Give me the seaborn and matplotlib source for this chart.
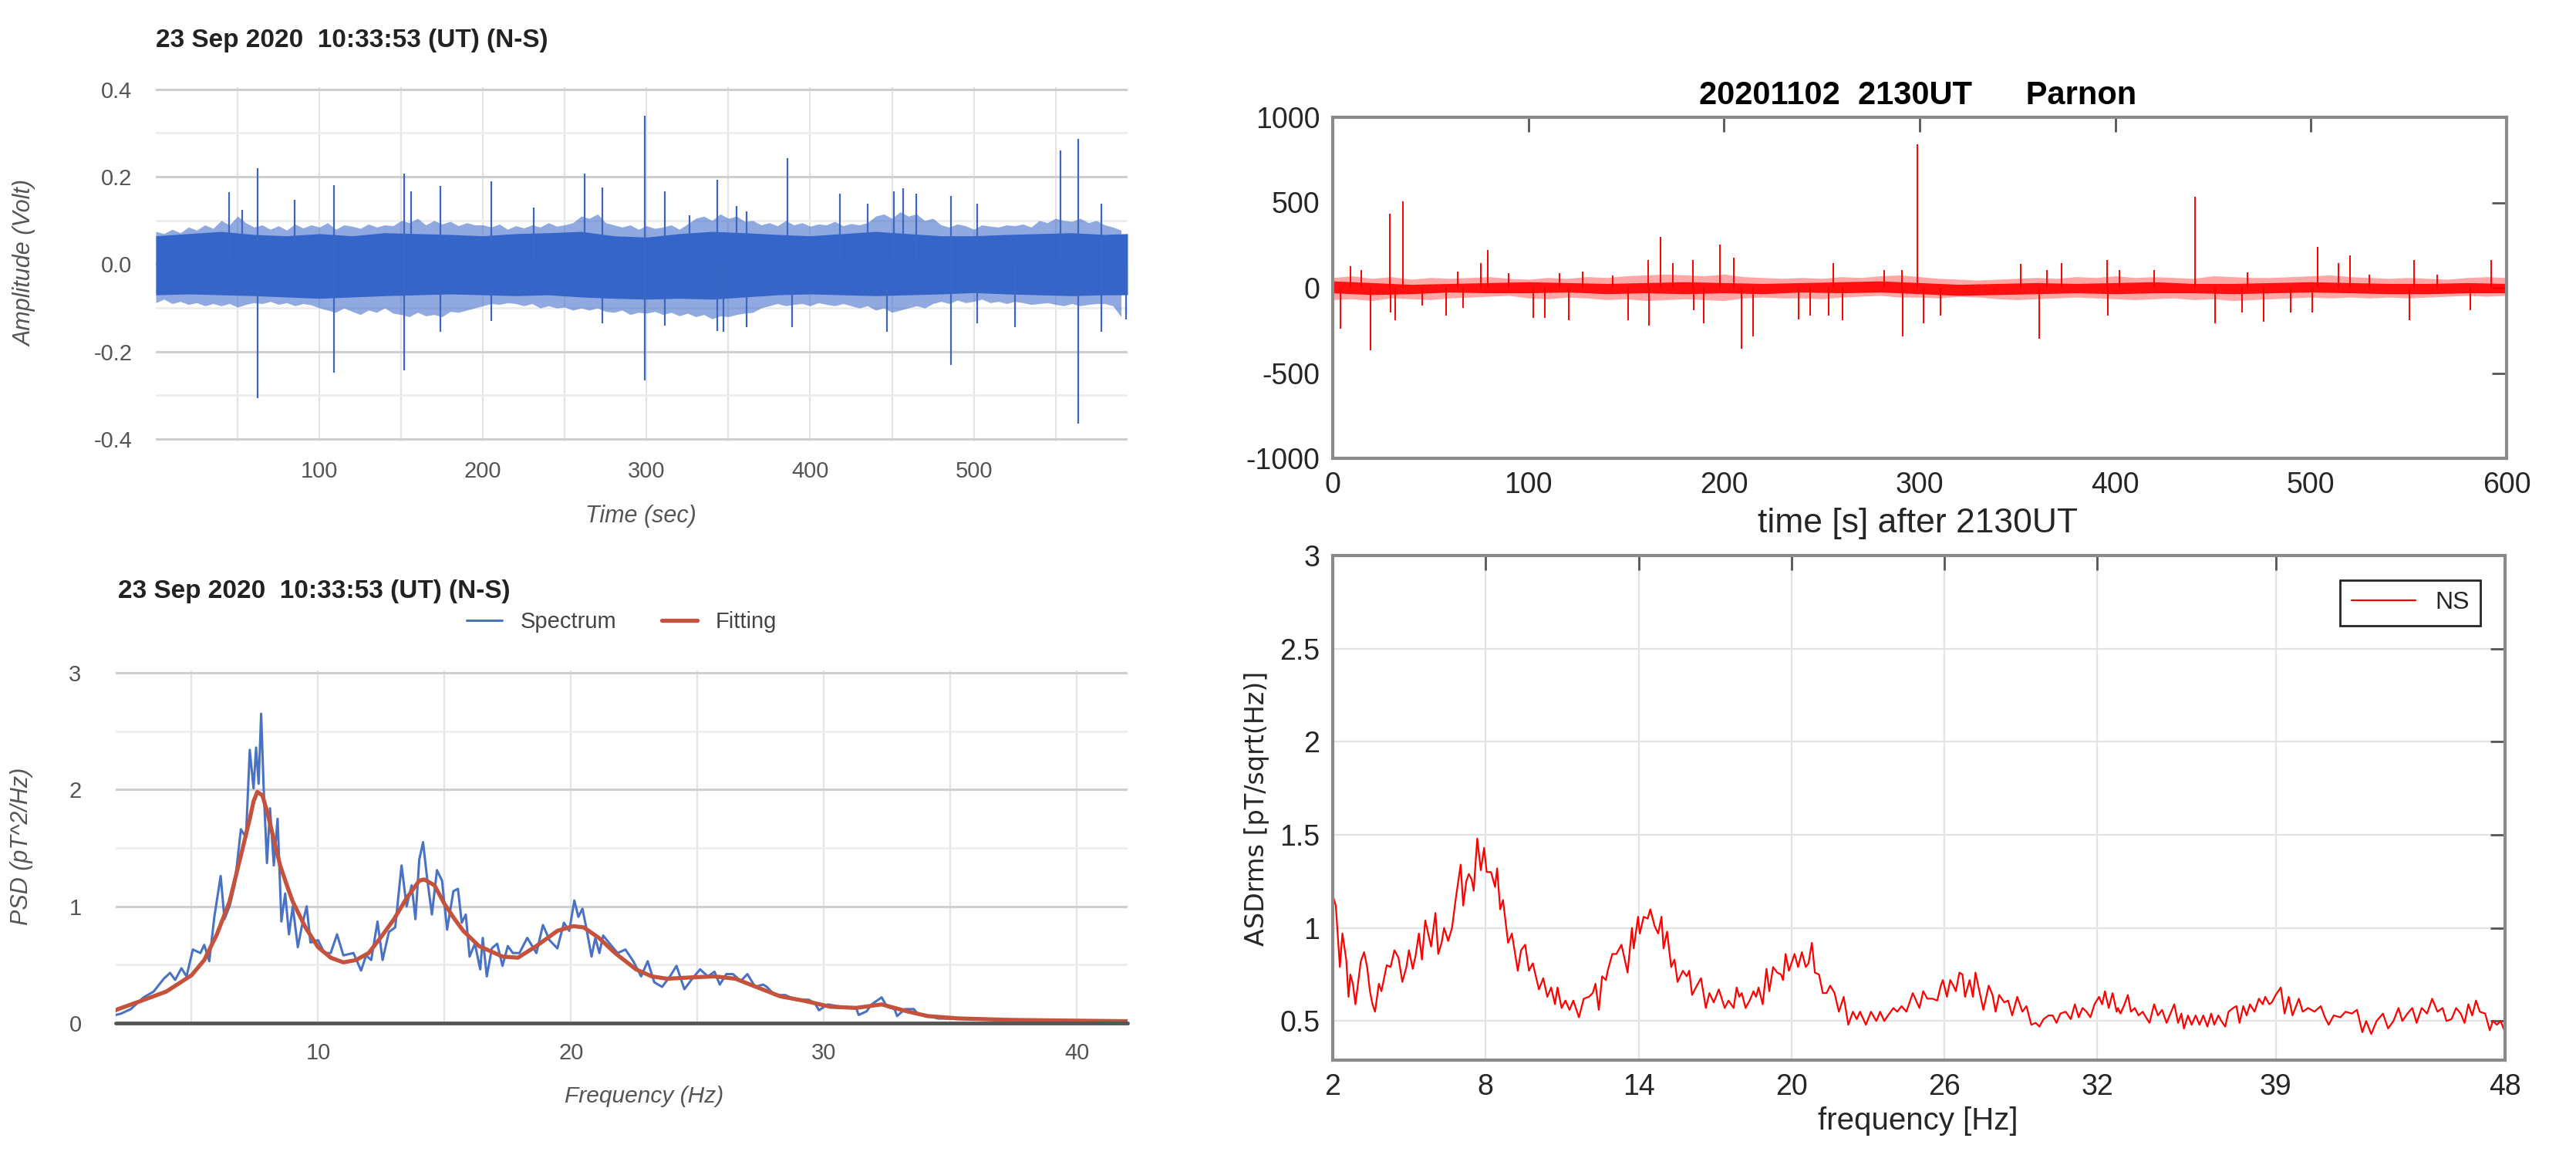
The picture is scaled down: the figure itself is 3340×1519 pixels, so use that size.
import numpy as np
import pandas as pd
import seaborn as sns
import matplotlib
matplotlib.use("Agg")
from matplotlib import pyplot as plt
import warnings
warnings.filterwarnings("ignore")

# ---------------- data ----------------
# top left: 23 Sep 2020 time series (Volt), band edges every 5 s + single spikes
tl_time = np.arange(0, 595, 5)
tl_upper = [0.075, 0.07, 0.08, 0.072,
            0.085, 0.078, 0.09, 0.082,
            0.10, 0.09, 0.11, 0.095,
            0.085, 0.09, 0.08, 0.088, 0.078, 0.092, 0.083, 0.09,
            0.085, 0.095, 0.08, 0.09, 0.087, 0.082, 0.092, 0.085, 0.09, 0.088,
            0.10, 0.095, 0.105, 0.09, 0.10, 0.092, 0.098, 0.088, 0.095, 0.09,
            0.09, 0.085, 0.092, 0.08, 0.088, 0.083, 0.09, 0.085, 0.095, 0.087, 0.09, 0.095,
            0.11, 0.105, 0.115, 0.095, 0.09, 0.085,
            0.09, 0.08, 0.088, 0.082, 0.085, 0.09, 0.08, 0.092,
            0.105, 0.11, 0.10, 0.115, 0.105, 0.11, 0.098, 0.10,
            0.09, 0.095, 0.088, 0.10, 0.09, 0.095, 0.087, 0.092, 0.09, 0.098, 0.088, 0.093, 0.09, 0.095,
            0.11, 0.115, 0.105, 0.12, 0.11, 0.115, 0.10, 0.105,
            0.09, 0.085, 0.092, 0.088, 0.08, 0.09, 0.087, 0.085, 0.09, 0.088, 0.092, 0.085,
            0.10, 0.095, 0.105, 0.10, 0.098, 0.105, 0.095, 0.10,
            0.09, 0.085, 0.078]
tl_lower = [-0.088, -0.08, -0.09, -0.085,
            -0.092, -0.088, -0.095, -0.09,
            -0.095, -0.09, -0.098, -0.092,
            -0.088, -0.09, -0.085, -0.092, -0.088, -0.095, -0.09, -0.093,
            -0.10, -0.105, -0.11, -0.10, -0.108, -0.115, -0.105, -0.11, -0.10, -0.112,
            -0.115, -0.12, -0.11, -0.118, -0.115, -0.12, -0.108, -0.11, -0.105, -0.10,
            -0.095, -0.09, -0.092, -0.088, -0.09, -0.095, -0.09, -0.10, -0.095, -0.10, -0.098, -0.105,
            -0.10, -0.105, -0.10, -0.108, -0.11, -0.105,
            -0.115, -0.11, -0.112, -0.108, -0.115, -0.11, -0.118, -0.112,
            -0.12, -0.115, -0.125, -0.118, -0.12, -0.115, -0.112, -0.11,
            -0.10, -0.095, -0.09, -0.095, -0.092, -0.09, -0.095, -0.088, -0.092, -0.095, -0.09, -0.095, -0.10, -0.095,
            -0.105, -0.10, -0.11, -0.105, -0.10, -0.095, -0.10, -0.09,
            -0.085, -0.09, -0.082, -0.088, -0.085, -0.08, -0.088, -0.085, -0.09, -0.085, -0.088, -0.092,
            -0.09, -0.088, -0.092, -0.095, -0.09, -0.095, -0.092, -0.09,
            -0.09, -0.095, -0.12]
tl_core_time = list(range(0, 600, 20)) + [594]
tl_core_upper = [0.065, 0.07, 0.075, 0.068, 0.065, 0.07, 0.065, 0.072, 0.07, 0.068,
                 0.065, 0.07, 0.072, 0.075, 0.065, 0.062, 0.07, 0.075, 0.072, 0.068,
                 0.065, 0.07, 0.075, 0.07, 0.065, 0.065, 0.068, 0.07, 0.072, 0.068, 0.07]
tl_core_lower = [-0.07, -0.068, -0.07, -0.072, -0.075, -0.078, -0.075, -0.072, -0.07, -0.068,
                 -0.07, -0.072, -0.07, -0.075, -0.078, -0.08, -0.078, -0.08, -0.075, -0.07,
                 -0.068, -0.07, -0.072, -0.07, -0.068, -0.065, -0.068, -0.07, -0.072, -0.07, -0.07]
tl_spike_time = [45, 53, 62, 62, 85, 109, 109, 152, 152, 156, 174, 174, 205, 205, 231,
                 262, 273, 273, 299, 299, 311, 311, 326, 343, 343, 347, 355, 361, 361,
                 386, 389, 418, 435, 447, 451, 457, 465, 486, 486, 502, 502, 525, 553,
                 564, 564, 578, 578, 593]
tl_spike_val = [0.165, 0.124, 0.22, -0.306, 0.147, 0.18, -0.248, 0.208, -0.242, 0.167,
                0.179, -0.155, 0.19, -0.13, 0.13, 0.208, 0.176, -0.135, 0.339, -0.266,
                0.167, -0.14, 0.112, 0.194, -0.152, -0.155, 0.133, 0.121, -0.144, 0.243,
                -0.144, 0.162, 0.138, -0.155, 0.167, 0.173, 0.162, 0.156, -0.231, 0.138,
                -0.135, -0.144, 0.26, 0.287, -0.365, 0.138, -0.155, -0.126]

# bottom left: PSD spectrum and fitting (pT^2/Hz)
spec_freq = [2.0, 2.2, 2.6, 3.1, 3.5, 3.9, 4.15, 4.35, 4.6, 4.8,
             5.05, 5.35, 5.5, 5.7, 5.9, 6.15, 6.3, 6.5, 6.7, 6.95,
             7.15, 7.3, 7.45, 7.55, 7.65, 7.75, 7.85, 7.98, 8.1, 8.25,
             8.4, 8.55, 8.7, 8.85, 9.0, 9.2, 9.35, 9.55, 9.7, 10.0,
             10.25, 10.5, 10.75, 11.0, 11.4, 11.7, 11.9, 12.1, 12.35, 12.55,
             12.8, 13.05, 13.3, 13.5, 13.7, 13.85, 14.0, 14.15, 14.3, 14.5,
             14.7, 14.9, 15.1, 15.35, 15.53, 15.68, 15.84, 15.99, 16.2, 16.41,
             16.51, 16.67, 16.87, 17.08, 17.29, 17.5, 17.7, 17.96, 18.27, 18.63,
             18.89, 19.15, 19.46, 19.72, 19.93, 20.13, 20.29, 20.45, 20.6, 20.81,
             20.96, 21.12, 21.27, 21.53, 21.84, 22.15, 22.46, 22.77, 23.03, 23.29,
             23.6, 23.91, 24.17, 24.48, 24.79, 25.1, 25.41, 25.67, 25.88, 26.14,
             26.4, 26.71, 26.97, 27.28, 27.59, 27.74, 28.05, 28.47, 28.88, 29.4,
             29.64, 29.8, 30.15, 30.66, 31.27, 31.37, 31.68, 31.88, 32.28, 32.49,
             32.79, 32.89, 33.2, 33.55, 33.7, 34.0, 34.5, 35.5, 37.0, 39.0,
             42.0]
spec_val = [0.07, 0.08, 0.12, 0.22, 0.27, 0.38, 0.43, 0.37, 0.47, 0.40,
            0.63, 0.60, 0.67, 0.53, 0.91, 1.26, 0.89, 1.00, 1.18, 1.66,
            1.59, 2.34, 2.01, 2.36, 2.05, 2.65, 2.01, 1.37, 1.84, 1.35,
            1.75, 0.87, 1.11, 0.76, 1.00, 0.65, 0.82, 1.00, 0.69, 0.71,
            0.60, 0.60, 0.76, 0.58, 0.60, 0.45, 0.58, 0.54, 0.87, 0.54,
            0.78, 0.82, 1.35, 1.00, 1.18, 0.89, 1.40, 1.55, 1.26, 0.93,
            1.31, 1.22, 0.80, 1.13, 1.15, 0.86, 0.93, 0.57, 0.68, 0.46,
            0.73, 0.40, 0.64, 0.68, 0.49, 0.66, 0.60, 0.60, 0.73, 0.60,
            0.84, 0.71, 0.64, 0.86, 0.79, 1.05, 0.91, 0.98, 0.82, 0.57,
            0.73, 0.60, 0.75, 0.68, 0.60, 0.63, 0.53, 0.40, 0.53, 0.35,
            0.31, 0.40, 0.49, 0.29, 0.38, 0.46, 0.40, 0.44, 0.33, 0.42,
            0.42, 0.36, 0.42, 0.31, 0.33, 0.31, 0.24, 0.24, 0.20, 0.20,
            0.17, 0.11, 0.16, 0.14, 0.13, 0.07, 0.10, 0.16, 0.22, 0.14,
            0.12, 0.06, 0.12, 0.12, 0.08, 0.07, 0.04, 0.035, 0.03, 0.025,
            0.02]
fit_freq = [2.0, 2.1, 3.0, 4.0, 5.0, 5.5, 6.0, 6.5, 7.0, 7.3,
            7.45, 7.6, 7.8, 8.0, 8.2, 8.5, 8.8, 9.0, 9.5, 10.0,
            10.5, 11.0, 11.5, 12.0, 12.5, 13.0, 13.5, 14.0, 14.2, 14.6,
            15.0, 15.4, 15.74, 16.36, 17.29, 17.9, 18.63, 19.46, 20.08, 20.5,
            21.1, 21.74, 22.57, 23.19, 23.8, 24.64, 25.67, 26.5, 27.2, 28.26,
            29.24, 30.25, 31.27, 32.28, 33.3, 34.1, 35.3, 37.4, 39.4, 42.0]
fit_val = [0.11, 0.12, 0.19, 0.27, 0.41, 0.54, 0.76, 1.04, 1.48, 1.75,
           1.90, 1.98, 1.95, 1.80, 1.62, 1.35, 1.16, 1.04, 0.82, 0.65,
           0.56, 0.52, 0.54, 0.60, 0.74, 0.89, 1.07, 1.22, 1.23, 1.18,
           1.02, 0.89, 0.79, 0.66, 0.57, 0.56, 0.66, 0.79, 0.83, 0.82,
           0.73, 0.60, 0.46, 0.40, 0.38, 0.39, 0.40, 0.38, 0.32, 0.23,
           0.19, 0.14, 0.13, 0.16, 0.10, 0.06, 0.04, 0.027, 0.022, 0.016]

# top right: Parnon 20201102 time series (pT), band edges + spikes
tr_time = np.arange(0, 610, 10)
tr_upper = [60, 70, 55, 65, 50, 60, 55, 60, 65, 55, 50, 60, 55, 65, 60, 70, 75, 80,
            75, 70, 80, 65, 60, 55, 60, 55, 65, 60, 70, 75, 65, 55, 50, 45, 50, 55,
            60, 55, 65, 60, 70, 60, 65, 60, 55, 70, 65, 60, 60, 65, 70, 75, 65, 60,
            55, 60, 55, 50, 60, 65, 60]
tr_lower = [-70, -65, -75, -60, -65, -70, -60, -55, -50, -45, -60, -65, -55, -60, -70, -65, -75, -70,
            -65, -70, -75, -60, -55, -60, -60, -65, -55, -50, -45, -55, -55, -60, -50, -55, -65, -70,
            -65, -60, -55, -60, -65, -70, -65, -60, -70, -65, -75, -70, -65, -60, -55, -60, -55, -60,
            -55, -60, -55, -50, -45, -50, -45]
tr_core_time = np.arange(0, 620, 20)
tr_core_upper = [40, 30, 20, 25, 30, 35, 30, 25, 30, 35, 30, 25, 30, 35, 40, 30,
                 20, 25, 30, 25, 30, 35, 25, 25, 30, 35, 30, 25, 25, 30, 25]
tr_core_lower = [-30, -40, -35, -25, -30, -30, -25, -35, -30, -35, -30, -35, -25, -30, -25, -35,
                 -45, -40, -35, -30, -35, -30, -30, -35, -30, -25, -30, -35, -35, -30, -30]
tr_spike_time = [8.9, 14.7, 29, 36, 64, 75.5, 79.4, 90, 116, 127.8, 143, 161.4, 167.6, 174,
                 184, 197.8, 205, 256, 281.8, 291, 298.9, 351.5, 365, 372.4, 395.7, 402,
                 420, 440.6, 467.7, 503.3, 514, 520, 530, 552.5, 564.5, 592,
                 3.9, 19.4, 29.5, 32, 45.7, 58, 66.6, 102.6, 108.4, 120.8, 151, 161.8,
                 184.5, 189.7, 209, 215, 238, 244, 253.6, 260.6, 291.5, 302, 310.5, 361,
                 396, 451, 464.6, 476, 489.7, 500.6, 550.5, 581.5]
tr_spike_val = [125, 102, 434, 509, 94, 147, 223, 87, 87, 94, 72, 165, 298, 147,
                162, 253, 177, 147, 102, 102, 842, 140, 102, 147, 165, 102,
                102, 535, 91, 238, 147, 192, 79, 165, 79, 162,
                -238, -366, -147, -192, -102, -162, -117, -177, -177, -192, -192, -223,
                -132, -207, -358, -283, -185, -162, -162, -192, -283, -207, -162, -298,
                -162, -207, -147, -200, -147, -147, -192, -132]

# bottom right: NS amplitude spectral density
asd_freq = [2.02, 2.12, 2.28, 2.38, 2.53, 2.62, 2.69, 2.79, 2.89, 3.10,
            3.23, 3.35, 3.46, 3.56, 3.66, 3.81, 3.91, 4.12, 4.27, 4.42,
            4.58, 4.73, 4.89, 4.99, 5.14, 5.25, 5.38, 5.50, 5.63, 5.76,
            5.86, 6.03, 6.14, 6.27, 6.37, 6.53, 6.68, 6.83, 7.02, 7.12,
            7.24, 7.34, 7.45, 7.53, 7.67, 7.81, 7.94, 8.04, 8.21, 8.37,
            8.45, 8.57, 8.68, 8.88, 9.03, 9.26, 9.39, 9.55, 9.70, 9.85,
            10.09, 10.26, 10.42, 10.57, 10.72, 10.82, 10.98, 11.13, 11.29, 11.44,
            11.66, 11.85, 12.05, 12.20, 12.31, 12.44, 12.57, 12.72, 12.79, 12.97,
            13.13, 13.33, 13.57, 13.74, 13.81, 13.98, 14.05, 14.20, 14.36, 14.46,
            14.63, 14.77, 14.90, 14.98, 15.12, 15.28, 15.41, 15.53, 15.74, 15.89,
            15.99, 16.10, 16.25, 16.45, 16.64, 16.78, 16.95, 17.15, 17.38, 17.53,
            17.73, 17.85, 17.95, 18.05, 18.20, 18.36, 18.51, 18.61, 18.71, 18.87,
            19.02, 19.13, 19.28, 19.44, 19.59, 19.67, 19.77, 19.90, 20.00, 20.12,
            20.26, 20.41, 20.56, 20.67, 20.80, 20.92, 21.08, 21.23, 21.38, 21.52,
            21.69, 21.86, 22.05, 22.23, 22.41, 22.56, 22.69, 22.92, 23.12, 23.33,
            23.48, 23.64, 23.79, 24.00, 24.15, 24.32, 24.51, 24.76, 25.02, 25.17,
            25.33, 25.53, 25.72, 25.86, 25.94, 26.10, 26.23, 26.35, 26.45, 26.59,
            26.71, 26.81, 26.99, 27.12, 27.22, 27.36, 27.53, 27.74, 27.89, 28.01,
            28.15, 28.35, 28.50, 28.66, 28.86, 29.06, 29.22, 29.41, 29.58, 29.73,
            29.89, 30.09, 30.25, 30.40, 30.55, 30.76, 30.96, 31.12, 31.27, 31.42,
            31.58, 31.73, 31.89, 32.07, 32.19, 32.30, 32.45, 32.60, 32.76, 32.81,
            32.91, 33.07, 33.20, 33.32, 33.47, 33.62, 33.78, 33.91, 34.05, 34.23,
            34.38, 34.54, 34.72, 34.84, 35.02, 35.17, 35.30, 35.40, 35.56, 35.70,
            35.86, 36.01, 36.16, 36.32, 36.47, 36.59, 36.75, 36.87, 37.02, 37.15,
            37.33, 37.46, 37.58, 37.73, 37.86, 37.99, 38.17, 38.34, 38.49, 38.59,
            38.75, 38.85, 39.00, 39.20, 39.35, 39.51, 39.66, 39.91, 40.06, 40.27,
            40.52, 40.77, 40.93, 41.08, 41.28, 41.54, 41.74, 41.99, 42.19, 42.40,
            42.55, 42.75, 42.96, 43.21, 43.41, 43.62, 43.82, 43.97, 44.17, 44.36,
            44.53, 44.73, 44.94, 45.14, 45.35, 45.55, 45.70, 45.90, 46.08, 46.26,
            46.41, 46.56, 46.71, 46.86, 47.01, 47.22, 47.40, 47.52, 47.68, 47.83,
            48.00]
asd_val = [1.165, 1.12, 0.79, 0.97, 0.83, 0.63, 0.75, 0.70, 0.59, 0.82,
           0.87, 0.79, 0.66, 0.59, 0.55, 0.70, 0.66, 0.80, 0.79, 0.88,
           0.84, 0.71, 0.79, 0.88, 0.78, 0.85, 0.97, 0.83, 1.04, 0.96,
           0.90, 1.08, 0.86, 0.92, 1.00, 0.93, 1.00, 1.16, 1.34, 1.12,
           1.25, 1.29, 1.26, 1.20, 1.48, 1.31, 1.43, 1.30, 1.30, 1.22,
           1.32, 1.10, 1.15, 0.92, 0.97, 0.77, 0.88, 0.91, 0.77, 0.81,
           0.67, 0.73, 0.63, 0.68, 0.59, 0.68, 0.57, 0.61, 0.56, 0.61,
           0.52, 0.62, 0.63, 0.65, 0.70, 0.56, 0.74, 0.72, 0.77, 0.86,
           0.86, 0.91, 0.76, 1.00, 0.89, 1.06, 0.97, 1.06, 1.05, 1.10,
           1.01, 0.97, 1.06, 0.89, 0.98, 0.79, 0.83, 0.71, 0.77, 0.74,
           0.77, 0.64, 0.68, 0.73, 0.57, 0.65, 0.60, 0.67, 0.57, 0.61,
           0.57, 0.68, 0.63, 0.65, 0.57, 0.61, 0.66, 0.63, 0.68, 0.59,
           0.78, 0.66, 0.79, 0.76, 0.75, 0.72, 0.86, 0.77, 0.81, 0.86,
           0.79, 0.87, 0.79, 0.81, 0.92, 0.76, 0.75, 0.65, 0.65, 0.69,
           0.65, 0.55, 0.63, 0.48, 0.55, 0.51, 0.55, 0.48, 0.55, 0.50,
           0.55, 0.50, 0.53, 0.57, 0.55, 0.58, 0.55, 0.65, 0.57, 0.66,
           0.62, 0.62, 0.61, 0.69, 0.72, 0.63, 0.72, 0.69, 0.66, 0.76,
           0.75, 0.63, 0.72, 0.63, 0.76, 0.67, 0.56, 0.69, 0.64, 0.55,
           0.64, 0.60, 0.61, 0.53, 0.63, 0.55, 0.58, 0.48, 0.49, 0.47,
           0.51, 0.53, 0.53, 0.49, 0.54, 0.55, 0.51, 0.59, 0.52, 0.57,
           0.55, 0.52, 0.59, 0.63, 0.59, 0.66, 0.57, 0.65, 0.55, 0.57,
           0.54, 0.59, 0.64, 0.55, 0.57, 0.53, 0.55, 0.52, 0.49, 0.59,
           0.53, 0.56, 0.49, 0.53, 0.59, 0.49, 0.54, 0.46, 0.53, 0.48,
           0.53, 0.48, 0.53, 0.47, 0.54, 0.48, 0.53, 0.50, 0.47, 0.55,
           0.57, 0.58, 0.49, 0.58, 0.53, 0.59, 0.55, 0.62, 0.59, 0.63,
           0.59, 0.60, 0.64, 0.68, 0.54, 0.63, 0.53, 0.62, 0.55, 0.57,
           0.55, 0.58, 0.52, 0.48, 0.53, 0.52, 0.55, 0.54, 0.56, 0.44,
           0.50, 0.43, 0.50, 0.54, 0.46, 0.50, 0.57, 0.50, 0.54, 0.57,
           0.49, 0.57, 0.54, 0.62, 0.55, 0.57, 0.50, 0.51, 0.57, 0.54,
           0.49, 0.59, 0.53, 0.61, 0.55, 0.54, 0.45, 0.50, 0.48, 0.50,
           0.44]

# ---------------- figure ----------------
W, H = 3341, 1519
sns.set_theme(style="white")
plt.rcParams["font.family"] = ["Liberation Sans Narrow", "Liberation Sans", "DejaVu Sans"]
plt.rcParams["axes.unicode_minus"] = False

fig = plt.figure(figsize=(W / 100, H / 100), dpi=100)
fig.patch.set_facecolor("white")


def box(x0, y0, x1, y1):
    # pixel box of the reference -> figure fraction
    return [x0 / W, 1 - y1 / H, (x1 - x0) / W, (y1 - y0) / H]


def google_style(ax, xmaj, xmin, ymaj, ymin, ylabels):
    for s in ax.spines.values():
        s.set_visible(False)
    ax.set_xticks(xmaj)
    ax.set_yticks(ymaj)
    ax.set_yticklabels(ylabels)
    ax.set_xticks(xmin, minor=True)
    ax.set_yticks(ymin, minor=True)
    ax.grid(True, which="major", axis="y", color="#cfcfcf", lw=2.2)
    ax.grid(True, which="minor", axis="y", color="#ececec", lw=1.8)
    ax.grid(True, which="both", axis="x", color="#e4e4e4", lw=1.6)
    ax.tick_params(which="both", length=0, labelsize=21, colors="#555555")
    ax.set_axisbelow(True)


def matlab_style(ax):
    for s in ax.spines.values():
        s.set_color("#8a8a8a")
        s.set_linewidth(3)
    ax.tick_params(which="both", direction="in", top=True, right=True, length=14,
                   width=2, color="#555555", labelsize=27, labelcolor="#262626", pad=12)


blue = "#3565c9"
grey_txt = "#555555"

# top left
ax1 = fig.add_axes(box(202, 113, 1462, 572))
ax1.fill_between(tl_time, tl_lower, tl_upper, color=blue, alpha=0.55, lw=0)
ax1.fill_between(tl_core_time, tl_core_lower, tl_core_upper, color=blue, lw=0)
ax1.vlines(tl_spike_time, 0, tl_spike_val, color="#3d66c0", lw=1.6)
ax1.set_xlim(0, 594)
ax1.set_ylim(-0.405, 0.405)
google_style(ax1, [100, 200, 300, 400, 500], [50, 150, 250, 350, 450, 550],
             [-0.4, -0.2, 0.0, 0.2, 0.4], [-0.3, -0.1, 0.1, 0.3],
             ["-0.4", "-0.2", "0.0", "0.2", "0.4"])
ax1.tick_params(axis="y", pad=22)
ax1.tick_params(axis="x", pad=18)

# bottom left
ax2 = fig.add_axes(box(150, 869, 1462, 1326))
sns.lineplot(x=spec_freq, y=spec_val, ax=ax2, color="#4a72c4", lw=2.2, label="Spectrum")
sns.lineplot(x=fit_freq, y=fit_val, ax=ax2, color="#c4523c", lw=3.8, label="Fitting")
ax2.axhline(0, color="#555555", lw=3.5, clip_on=False)
ax2.set_xlim(2, 42)
ax2.set_ylim(0, 3.02)
google_style(ax2, [10, 20, 30, 40], [5, 15, 25, 35], [0, 1, 2, 3], [0.5, 1.5, 2.5],
             ["0", "1", "2", "3"])
ax2.tick_params(axis="y", pad=32)
ax2.tick_params(axis="x", pad=18)
ax2.set_xlabel("")
ax2.set_ylabel("")
ax2.legend(loc="lower center", bbox_to_anchor=(0.5, 1.05), ncol=2, frameon=False,
           fontsize=21, handlelength=1.6, columnspacing=2.0, labelcolor="#444444")

# left texts
title_left = "23 Sep 2020  10:33:53 (UT) (N-S)"
fig.text(202 / W, 1 - 53 / H, title_left, ha="left", va="center", fontsize=24,
         weight="bold", color="#222222")
fig.text(153 / W, 1 - 767 / H, title_left, ha="left", va="center", fontsize=24,
         weight="bold", color="#222222")
fig.text(831 / W, 1 - 669 / H, "Time (sec)", ha="center", va="center", fontsize=22,
         style="italic", color=grey_txt)
fig.text(33 / W, 1 - 341 / H, "Amplitude (Volt)", ha="center", va="center", fontsize=22,
         style="italic", color=grey_txt, rotation=90)
fig.text(835 / W, 1 - 1421 / H, "Frequency (Hz)", ha="center", va="center", fontsize=21.5,
         style="italic", color=grey_txt)
fig.text(28 / W, 1 - 1097 / H, "PSD (pT^2/Hz)", ha="center", va="center", fontsize=22,
         style="italic", color=grey_txt, rotation=90)

# top right
ax3 = fig.add_axes(box(1728, 152, 3250, 594))
ax3.fill_between(tr_time, tr_lower, tr_upper, color="#ff0000", alpha=0.35, lw=0)
ax3.fill_between(tr_core_time, tr_core_lower, tr_core_upper, color="#ff0000", alpha=0.9, lw=0)
ax3.vlines(tr_spike_time, 0, tr_spike_val, color="#ff0000", lw=1.4)
ax3.set_xlim(0, 600)
ax3.set_ylim(-1000, 1000)
ax3.set_xticks([0, 100, 200, 300, 400, 500, 600])
ax3.set_yticks([-1000, -500, 0, 500, 1000])
matlab_style(ax3)
fig.text(2487 / W, 1 - 124 / H, "20201102  2130UT      Parnon", ha="center", va="center",
         fontsize=30, weight="bold", color="black")
fig.text(2487 / W, 1 - 678 / H, "time [s] after 2130UT", ha="center", va="center",
         fontsize=32, color="#262626")

# bottom right
ax4 = fig.add_axes(box(1728, 720, 3248, 1374))
asd = pd.DataFrame({"freq": asd_freq, "asd": asd_val})
sns.lineplot(data=asd, x="freq", y="asd", ax=ax4, color="#ff0000", lw=1.6, label="NS")
ax4.set_xlim(2, 48)
ax4.set_ylim(0.29, 3)
ax4.set_xticks([2, 8, 14, 20, 26, 32, 39, 48])
ax4.set_yticks([0.5, 1, 1.5, 2, 2.5, 3])
ax4.set_yticklabels(["0.5", "1", "1.5", "2", "2.5", "3"])
ax4.grid(True, color="#e3e3e3", lw=1.6)
matlab_style(ax4)
ax4.set_xlabel("")
ax4.set_ylabel("")
leg = ax4.legend(loc="upper right", fontsize=23, frameon=True, fancybox=False,
                 framealpha=1, borderaxespad=1.0, handlelength=2.6, borderpad=0.45)
leg.get_frame().set_edgecolor("#262626")
leg.get_frame().set_linewidth(2)
fig.text(2487 / W, 1 - 1453 / H, "frequency [Hz]", ha="center", va="center",
         fontsize=29, color="#262626")
fig.text(1630 / W, 1 - 1048 / H, "ASDrms [pT/sqrt(Hz)]", ha="center", va="center",
         fontsize=24, color="#262626", rotation=90, family="DejaVu Sans")

fig.savefig("out.png", dpi=100, facecolor="white")
